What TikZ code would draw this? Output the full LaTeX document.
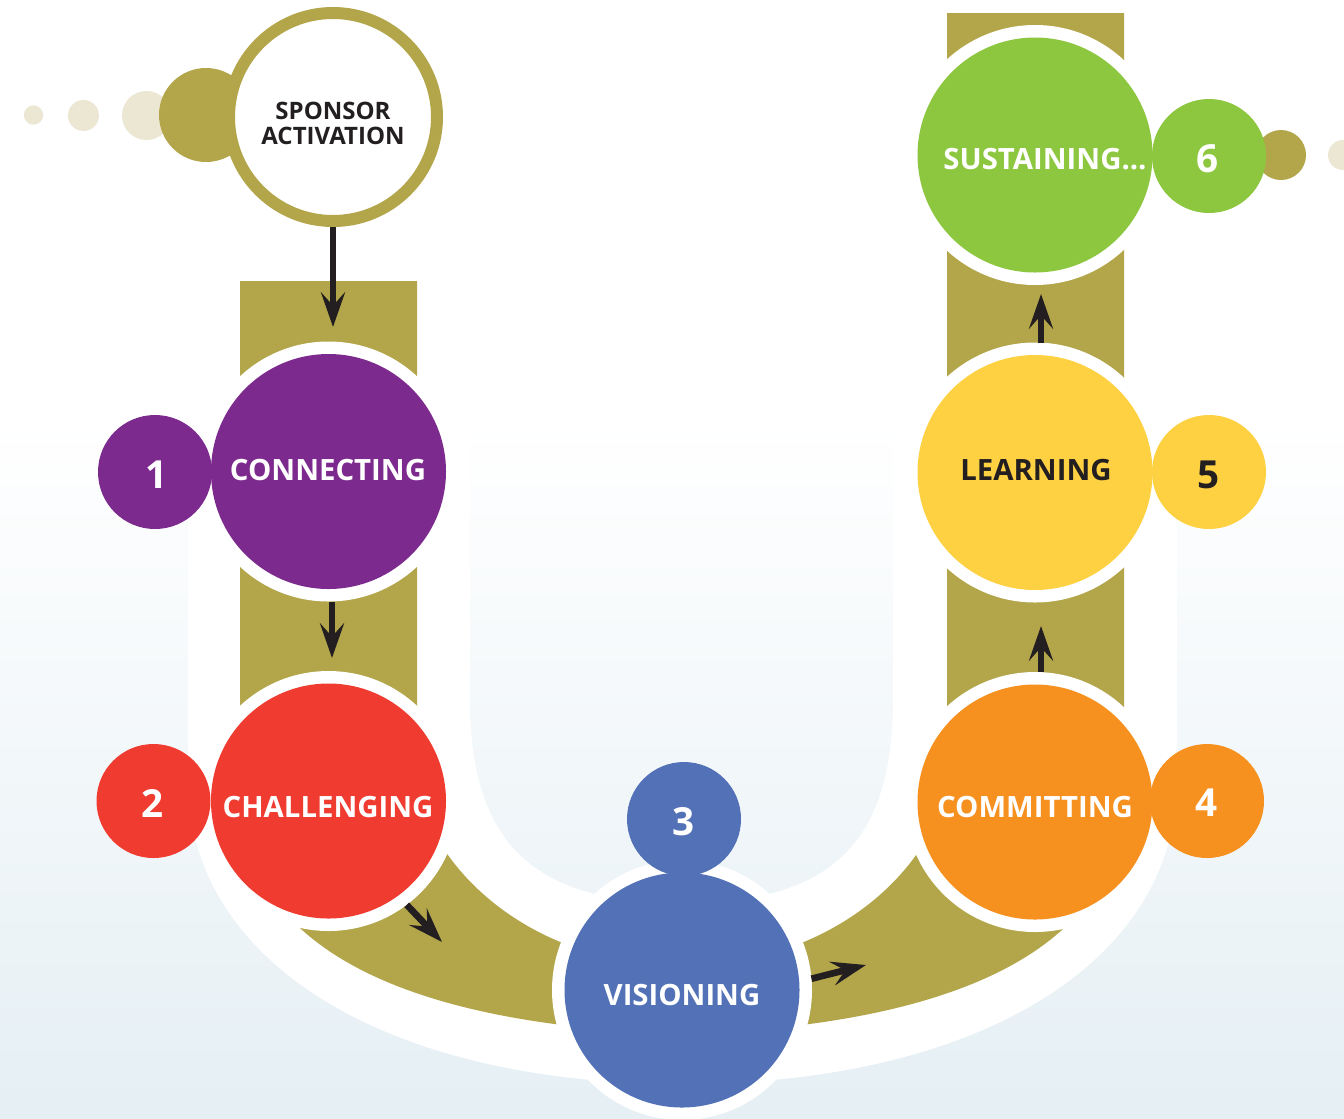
\documentclass[tikz,border=0pt]{standalone}
\usepackage{fontspec}
\setmainfont{Open Sans}
\usetikzlibrary{arrows.meta,calc}
\definecolor{trk}{HTML}{B3A54A}
\definecolor{pur}{HTML}{7D2A8E}
\definecolor{redc}{HTML}{EF3B30}
\definecolor{bluec}{HTML}{5271B6}
\definecolor{orac}{HTML}{F6901F}
\definecolor{yelc}{HTML}{FED142}
\definecolor{grec}{HTML}{8DC63F}
\definecolor{pale}{HTML}{EBE7D3}
\definecolor{ink}{HTML}{231F20}
\definecolor{sky}{HTML}{E5EFF4}
\begin{document}
\begin{tikzpicture}[x=0.75pt,y=-0.75pt,
  ringc/.style={circle,fill=white,minimum size=195pt,inner sep=0pt,outer sep=0pt},
  bigc/.style={circle,minimum size=176.25pt,inner sep=0pt,outer sep=0pt},
  numc/.style={circle,minimum size=85.5pt,inner sep=0pt,outer sep=0pt},
  spot/.style={circle,inner sep=0pt,outer sep=0pt},
  lab/.style={font=\bfseries\fontsize{22}{26}\selectfont,text=white,inner sep=0pt},
  slab/.style={font=\bfseries\fontsize{18}{20}\selectfont,text=ink,inner sep=0pt},
  numlab/.style={font=\bfseries\fontsize{29}{34}\selectfont,text=white,inner sep=0pt},
  arr/.style={line width=5pt,draw=ink,-{Stealth[length=26pt,width=18pt,inset=10pt]}}
]
\useasboundingbox (0,0) rectangle (1344,1118);
\fill[white] (0,0) rectangle (1344,1118);
\shade[top color=white,bottom color=sky] (0,420) rectangle (1344,1118);
% white U band
\fill[white] (188,300) -- (188,780) .. controls (188,962) and (386,1084) .. (682,1084)
  .. controls (978,1084) and (1177,962) .. (1177,780) -- (1177,300) -- (893,300) -- (893,700)
  .. controls (893,850) and (824,903) .. (682,903) .. controls (540,903) and (470,850) .. (470,700)
  -- (470,300) -- cycle;
% olive track
\fill[trk] (240,281) -- (417,281) -- (417,790)
  .. controls (440,880) and (540,965) .. (682,966)
  .. controls (824,965) and (924,880) .. (947,790)
  -- (947,13) -- (1124,13) -- (1124,790)
  .. controls (1124,945) and (964,1025) .. (682,1034)
  .. controls (400,1025) and (240,945) .. (240,790) -- cycle;
% decorative spots
\node[spot,fill=pale,minimum size=14.5pt] (d1) at (33.5,115) {};
\node[spot,fill=pale,minimum size=23.25pt] (d2) at (83.5,115.5) {};
\node[spot,fill=pale,minimum size=36.75pt] (d3) at (146.5,115.5) {};
\node[spot,fill=trk,minimum size=70.5pt] (d4) at (206,115) {};
\node[spot,fill=pale,minimum size=22.5pt] (d6) at (1343,155) {};
\node[spot,fill=trk,minimum size=37.5pt] (d5) at (1281,155) {};
% white rings
\node[ringc] (conn-r) at (328.5,471.5) {};
\node[ringc] (chal-r) at (328.5,801) {};
\node[ringc] (vis-r) at (682,990) {};
\node[ringc] (com-r) at (1035,802) {};
\node[ringc] (lea-r) at (1035,472.5) {};
\node[ringc] (sus-r) at (1035,155) {};
% number circles
\node[numc,fill=pur] (n1) at (155,472) {};
\node[numc,fill=redc] (n2) at (153.5,801) {};
\node[numc,fill=bluec] (n3) at (684,819) {};
\node[numc,fill=orac] (n4) at (1207,801) {};
\node[numc,fill=yelc] (n5) at (1209,472) {};
\node[numc,fill=grec] (n6) at (1209,156) {};
% big circles
\node[bigc,fill=pur] (conn) at (328.5,471.5) {};
\node[bigc,fill=redc] (chal) at (328.5,801) {};
\node[bigc,fill=bluec] (vis) at (682,990) {};
\node[bigc,fill=orac] (com) at (1035,802) {};
\node[bigc,fill=yelc] (lea) at (1035,472.5) {};
\node[bigc,fill=grec] (sus) at (1035,155) {};
% sponsor
\node[circle,fill=white,draw=trk,line width=9pt,minimum size=156pt,inner sep=0pt] (spon) at (333,117) {};
% arrows
\coordinate (t1) at (333,327);
\coordinate (t2) at (332,658);
\coordinate (t3) at (442,942);
\coordinate (t4) at (866,965);
\coordinate (t5) at (1041,626);
\coordinate (t6) at (1041,294);
\draw[arr] (spon.south) -- (t1);
\draw[arr] (conn-r.south -| t2) -- (t2);
\draw[arr] (chal-r.-53.5) -- (t3);
\draw[arr] (vis-r.5.7) -- (t4);
\draw[arr] (com-r.north -| t5) -- (t5);
\draw[arr] (lea-r.north -| t6) -- (t6);
% labels
\node[slab] (spon-t1) at (333,110.5) {SPONSOR};
\node[slab] (spon-t2) at (333,135.5) {ACTIVATION};
\node[lab] (conn-t) at (328,470) {CONNECTING};
\node[lab] (chal-t) at (328,807) {CHALLENGING};
\node[lab] (vis-t) at (682,995) {VISIONING};
\node[lab] (com-t) at (1035,807) {COMMITTING};
\node[lab,text=ink] (lea-t) at (1036,470) {LEARNING};
\node[lab] (sus-t) at (1045,159.5) {SUSTAINING...};
\node[numlab] (n1-t) at (156.5,475) {1};
\node[numlab] (n2-t) at (153,803) {2};
\node[numlab] (n3-t) at (684,822) {3};
\node[numlab] (n4-t) at (1207,803) {4};
\node[numlab,text=ink] (n5-t) at (1209,475) {5};
\node[numlab] (n6-t) at (1208,158.5) {6};
\end{tikzpicture}
\end{document}
